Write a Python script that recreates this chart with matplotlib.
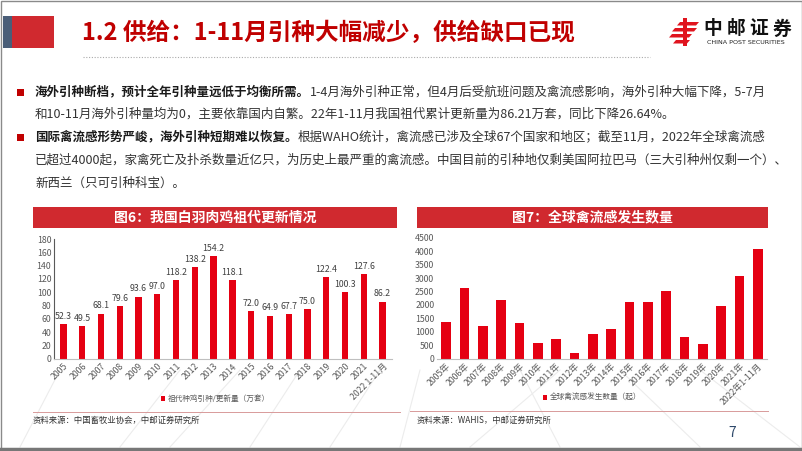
import matplotlib
matplotlib.use('agg')
import matplotlib.pyplot as plt
from matplotlib.patches import Rectangle, Polygon

plt.rcParams['font.family'] = ['Noto Sans CJK SC', 'DejaVu Sans']

years6 = ["2005", "2006", "2007", "2008", "2009", "2010", "2011", "2012", "2013",
          "2014", "2015", "2016", "2017", "2018", "2019", "2020", "2021", "2022 1-11月"]
gp_renew = [52.3, 49.5, 68.1, 79.6, 93.6, 97.0, 118.2, 138.2, 154.2,
            118.1, 72.0, 64.9, 67.7, 75.0, 122.4, 100.3, 127.6, 86.2]

years7 = [y + "年" for y in years6[:-1]] + ["2022年1-11月"]
flu_cases = [1370, 2620, 1200, 2180, 1310, 570, 745, 210, 915,
             1115, 2105, 2120, 2530, 805, 535, 1960, 3085, 4065]

RED = '#C8161D'
BAR = '#E50012'
W, H = 802, 451

fig = plt.figure(figsize=(W / 100, H / 100), dpi=100)
fig.patch.set_facecolor('white')


def px(x, y):
    return x / W, 1 - y / H


def axrect(l, t, r, b):
    return [l / W, 1 - b / H, (r - l) / W, (b - t) / H]


# faint background lines (slide decoration)
for x0, x1 in [(60, 20), (180, 120), (300, 250), (420, 400), (520, 560), (620, 700),
               (700, 800), (560, 470), (380, 330), (240, 170)]:
    fig.add_artist(plt.Line2D([x0 / W, x1 / W], [1 - 370 / H, 1 - 447 / H], transform=fig.transFigure,
                              color='#ececec', lw=0.8, zorder=0))

# frame
fig.add_artist(Rectangle((0.5 / W, 0.5 / H), 1 - 1 / W, 1 - 1 / H, transform=fig.transFigure,
                         fill=False, ec='#8a8a8a', lw=1))
fig.add_artist(plt.Line2D([0, 1], [1 - 448.5 / H] * 2, transform=fig.transFigure, color='#777777', lw=2.5))

# header blocks
fig.add_artist(Rectangle(px(3, 48), 9 / W, 32 / H, transform=fig.transFigure, color='#4a5e78', lw=0))
fig.add_artist(Rectangle(px(12, 48), 42 / W, 32 / H, transform=fig.transFigure, color='#D0292F', lw=0))

fig.text(*px(82, 33), "1.2 供给：1-11月引种大幅减少，供给缺口已现", color='#C00000',
         fontsize=17, fontweight='bold', va='center', ha='left')
fig.add_artist(plt.Line2D([83 / W, 650 / W], [1 - 57 / H] * 2, transform=fig.transFigure,
                          color='#aaaaaa', lw=0.8, ls=(0, (1, 1.5))))

# logo
for y0, x0, x1 in [(22, 680, 699), (28, 675, 697), (34, 672, 692), (40, 676, 690)]:
    fig.add_artist(Polygon([px(x0, y0), px(x1, y0), px(x1 - 3, y0 + 3.5), px(x0 - 3, y0 + 3.5)],
                           closed=True, transform=fig.transFigure, color='#E0141E', lw=0))
fig.add_artist(Rectangle(px(683, 46), 4 / W, 28 / H, transform=fig.transFigure, color='#E0141E', lw=0))
for i, ch in enumerate("中邮证券"):
    fig.text(*px(713 + i * 23, 29), ch, fontsize=13.5, fontweight='bold', color='#111111',
             ha='center', va='center')
fig.text(*px(746, 43), "CHINA POST SECURITIES", fontsize=4.6, color='#222222', ha='center', va='center',
         family=['DejaVu Sans'])

# bullet text
renderer = fig.canvas.get_renderer()


def rich_line(x, y, parts, size=9):
    for txt, bold in parts:
        t = fig.text(*px(x, y), txt, fontsize=size, fontweight='bold' if bold else 'normal',
                     color='#1a1a1a' if bold else '#333333', ha='left', va='center')
        bb = t.get_window_extent(renderer=renderer)
        x += bb.width


lines = [
    (92, [("海外引种断档，预计全年引种量远低于均衡所需。", True),
          ("1-4月海外引种正常，但4月后受航班问题及禽流感影响，海外引种大幅下降，5-7月", False)]),
    (114, [("和10-11月海外引种量均为0，主要依靠国内自繁。22年1-11月我国祖代累计更新量为86.21万套，同比下降26.64%。", False)]),
    (137, [("国际禽流感形势严峻，海外引种短期难以恢复。", True),
           ("根据WAHO统计，禽流感已涉及全球67个国家和地区；截至11月，2022年全球禽流感", False)]),
    (160, [("已超过4000起，家禽死亡及扑杀数量近亿只，为历史上最严重的禽流感。中国目前的引种地仅剩美国阿拉巴马（三大引种州仅剩一个）、", False)]),
    (183, [("新西兰（只可引种科宝）。", False)]),
]
for y, parts in lines:
    rich_line(35, y, parts)
for y in (92, 137):
    fig.add_artist(Rectangle(px(17, y + 3.5), 7 / W, 7 / H, transform=fig.transFigure, color='#C00000', lw=0))

# chart banners
fig.add_artist(Rectangle(px(33, 228), 364 / W, 21 / H, transform=fig.transFigure, color='#D0292F', lw=0))
fig.text(*px(215, 217.5), "图6：我国白羽肉鸡祖代更新情况", color='white', fontsize=10, fontweight='bold',
         ha='center', va='center')
fig.add_artist(Rectangle(px(417, 228), 351 / W, 21 / H, transform=fig.transFigure, color='#D0292F', lw=0))
fig.text(*px(592, 217.5), "图7：全球禽流感发生数量", color='white', fontsize=10, fontweight='bold',
         ha='center', va='center')


def style_axes(ax, ymax, step):
    ax.set_xlim(-0.5, 17.5)
    ax.set_ylim(0, ymax)
    ax.set_yticks(range(0, ymax + 1, step))
    for s in ('top', 'right'):
        ax.spines[s].set_visible(False)
    ax.spines['bottom'].set_color('#bfbfbf')
    ax.tick_params(axis='both', labelsize=6.3, colors='#595959', length=0, pad=2)
    ax.set_facecolor('none')


# left chart
ax1 = fig.add_axes(axrect(54, 239, 392, 359))
x = list(range(len(years6)))
ax1.bar(x, gp_renew, width=0.34, color=BAR, label="祖代种鸡引种/更新量（万套）")
for xi, v in zip(x, gp_renew):
    ax1.text(xi, v + 5, f"{v:.1f}", ha='center', va='bottom', fontsize=6.3, color='#404040')
style_axes(ax1, 180, 20)
ax1.spines['left'].set_color('#595959')
ax1.set_xticks(x)
ax1.set_xticklabels(years6, rotation=45, ha='right', rotation_mode='anchor')
ax1.legend(loc='center', bbox_to_anchor=(215 / W, 1 - 399 / H), bbox_transform=fig.transFigure,
           frameon=False, fontsize=5.5, handlelength=0.6, handleheight=0.6, handletextpad=0.3,
           labelcolor='#595959')

# right chart
ax2 = fig.add_axes(axrect(437, 237.7, 767, 358.7))
ax2.bar(x, flu_cases, width=0.52, color=BAR, label="全球禽流感发生数量（起）")
style_axes(ax2, 4500, 500)
ax2.spines['left'].set_visible(False)
ax2.set_xticks(x)
ax2.set_xticklabels(years7, rotation=45, ha='right', rotation_mode='anchor')
ax2.legend(loc='center', bbox_to_anchor=(592 / W, 1 - 398 / H), bbox_transform=fig.transFigure,
           frameon=False, fontsize=5.5, handlelength=0.6, handleheight=0.6, handletextpad=0.3,
           labelcolor='#595959')

# source lines
fig.add_artist(plt.Line2D([33 / W, 400 / W], [1 - 412 / H] * 2, transform=fig.transFigure, color='#d89a9a', lw=0.7))
fig.add_artist(plt.Line2D([410 / W, 768 / W], [1 - 411 / H] * 2, transform=fig.transFigure, color='#d89a9a', lw=0.7))
fig.text(*px(33, 420), "资料来源：中国畜牧业协会，中邮证券研究所", fontsize=6, color='#333333', va='center')
fig.text(*px(417, 420), "资料来源：WAHIS，中邮证券研究所", fontsize=6, color='#333333', va='center')
fig.text(*px(732, 433), "7", fontsize=10, color='#2f4a6b', ha='center', va='center')

fig.savefig("out.png", dpi=100, facecolor='white')
